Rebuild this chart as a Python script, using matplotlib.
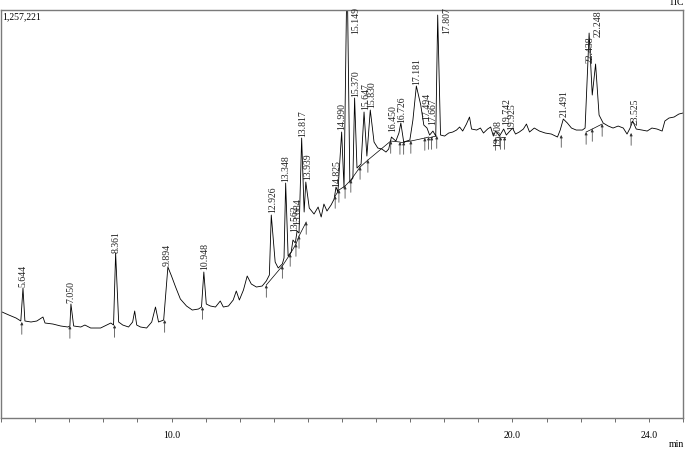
import matplotlib
matplotlib.use("Agg")
import matplotlib.pyplot as plt
from matplotlib.ticker import MultipleLocator, FixedLocator

plt.rcParams['font.family'] = ['Liberation Serif', 'DejaVu Serif']

# ---- data (retention time in min, intensity in thousands of counts) ----
y_max = 1257221

rt = [5.03, 5.23, 5.44, 5.58, 5.644, 5.70, 5.88, 6.05, 6.23, 6.29, 6.52, 6.75, 6.96, 7.02,
      7.050, 7.13, 7.34, 7.46, 7.63, 7.92, 8.10, 8.22, 8.30, 8.361, 8.45, 8.57, 8.74, 8.86,
      8.92, 8.98, 9.09, 9.27, 9.42, 9.53, 9.62, 9.77, 9.894, 10.00, 10.12, 10.26, 10.44,
      10.61, 10.79, 10.88, 10.948, 11.02, 11.14, 11.29, 11.43, 11.52, 11.67, 11.81, 11.90,
      11.99, 12.11, 12.22, 12.34, 12.49, 12.66, 12.78, 12.87, 12.926, 13.04, 13.13, 13.25,
      13.30, 13.348, 13.42, 13.51, 13.562, 13.63, 13.684, 13.74, 13.817, 13.89, 13.939,
      14.04, 14.18, 14.30, 14.39, 14.47, 14.56, 14.68, 14.77, 14.825, 14.88, 14.990, 15.06,
      15.149, 15.23, 15.32, 15.370, 15.44, 15.56, 15.647, 15.73, 15.830, 15.94, 16.05,
      16.17, 16.29, 16.37, 16.450, 16.58, 16.67, 16.726, 16.81, 16.99, 17.08, 17.181, 17.31,
      17.40, 17.494, 17.57, 17.667, 17.75, 17.807, 17.89, 18.01, 18.13, 18.25, 18.36, 18.45,
      18.54, 18.65, 18.74, 18.80, 18.95, 19.06, 19.15, 19.27, 19.36, 19.44, 19.508, 19.62,
      19.742, 19.82, 19.925, 20.00, 20.09, 20.20, 20.32, 20.41, 20.50, 20.64, 20.79, 20.96,
      21.14, 21.32, 21.40, 21.491, 21.61, 21.73, 21.87, 22.05, 22.13, 22.248, 22.34, 22.438,
      22.54, 22.66, 22.81, 22.95, 23.10, 23.25, 23.36, 23.45, 23.525, 23.63, 23.80, 23.95,
      24.09, 24.24, 24.39, 24.47, 24.59, 24.74, 24.88, 25.00]

intensity = [326.6, 317.3, 308.1, 298.9, 400.5, 298.9, 295.8, 298.9, 311.2, 292.7, 289.6,
             283.5, 280.4, 283.5, 351.2, 283.5, 280.4, 286.5, 277.3, 277.3, 286.5, 292.7,
             286.5, 508.4, 295.8, 286.5, 280.4, 295.8, 329.7, 286.5, 280.4, 277.3, 295.8,
             342.0, 295.8, 301.9, 465.2, 437.5, 403.6, 366.6, 345.1, 332.7, 335.8, 342.0,
             449.8, 351.2, 345.1, 342.0, 360.5, 342.0, 345.1, 363.6, 391.3, 363.6, 394.4,
             437.5, 412.9, 403.6, 406.7, 422.1, 440.6, 625.4, 480.6, 462.2, 474.5, 493.0,
             724.0, 499.1, 511.4, 548.4, 539.2, 576.1, 570.0, 862.7, 634.7, 727.1, 647.0,
             628.5, 650.1, 619.3, 659.3, 637.8, 656.3, 674.7, 711.7, 696.3, 881.2, 708.6,
             1400.0, 727.1, 739.4, 985.9, 770.3, 782.6, 942.8, 807.2, 949.0, 850.4, 831.9,
             828.8, 819.5, 828.8, 865.8, 853.4, 878.1, 908.9, 850.4, 856.5, 918.1, 1022.9,
             964.4, 902.7, 893.5, 871.9, 884.2, 868.8, 1241.6, 871.9, 868.8, 878.1, 881.2,
             887.3, 896.6, 884.2, 905.8, 927.4, 890.4, 887.3, 893.5, 878.1, 890.4, 896.6,
             868.8, 884.2, 868.8, 890.4, 871.9, 884.2, 893.5, 875.0, 881.2, 890.4, 905.8,
             881.2, 893.5, 884.2, 878.1, 875.0, 865.8, 887.3, 921.2, 908.9, 893.5, 887.3,
             887.3, 893.5, 1186.2, 995.2, 1090.7, 933.5, 908.9, 899.6, 893.5, 899.6, 893.5,
             875.0, 893.5, 915.1, 890.4, 887.3, 884.2, 893.5, 890.4, 884.2, 915.1, 924.3,
             927.4, 936.6, 939.7]

# integration boundaries (time, intensity)
bound_rt = [5.61, 7.02, 8.33, 9.80, 10.91, 12.78, 13.25, 13.48, 13.65, 13.74, 13.95, 14.80,
            14.91, 15.09, 15.26, 15.53, 15.76, 16.43, 16.70, 16.81, 17.02, 17.43, 17.54,
            17.63, 17.78, 19.50, 19.65, 19.77, 21.43, 22.16, 22.34, 22.63, 23.48]
bound_int = [295.8, 283.5, 286.5, 301.9, 342.0, 409.8, 468.3, 505.3, 536.1, 560.7, 603.9,
             684.0, 702.5, 714.8, 733.3, 773.3, 794.9, 853.4, 850.4, 850.4, 853.4, 862.7,
             865.8, 865.8, 868.8, 862.7, 865.8, 865.8, 871.9, 881.2, 890.4, 905.8, 878.1]

# peak labels and where their text sits
peak_labels = ["5.644", "7.050", "8.361", "9.894", "10.948", "12.926", "13.348", "13.562",
               "13.684", "13.817", "13.939", "14.825", "14.990", "15.149", "15.370", "15.647",
               "15.830", "16.450", "16.726", "17.181", "17.494", "17.667", "17.807", "19.508",
               "19.742", "19.925", "21.491", "22.438", "22.248", "23.525"]
label_x = [5.64, 7.05, 8.39, 9.88, 10.96, 12.98, 13.36, 13.60, 13.71, 13.86, 13.98, 14.85,
           15.00, 15.41, 15.41, 15.70, 15.88, 16.49, 16.75, 17.19, 17.49, 17.66, 18.07, 19.56,
           19.82, 19.97, 21.52, 22.28, 22.51, 23.60]
label_y = [403.6, 354.3, 508.4, 468.3, 456.0, 631.6, 727.1, 573.1, 594.6, 865.8, 733.3, 711.7,
           887.3, 1183.1, 989.0, 949.0, 955.1, 881.2, 908.9, 1026.0, 918.1, 902.7, 1183.1,
           835.0, 902.7, 887.3, 927.4, 1093.8, 1173.9, 902.7]

x_major = [10.0, 20.0, 24.0]

# ---- figure ----
fig = plt.figure(figsize=(6.85, 4.5), dpi=100)
ax = fig.add_axes([0.0015, 0.0711, 0.9955, 0.9067])

ax.plot(rt, intensity, color='black', lw=0.6)

# baselines between neighbouring boundaries
for i in range(len(bound_rt) - 1):
    if bound_rt[i + 1] - bound_rt[i] < 0.7:
        ax.plot([bound_rt[i], bound_rt[i + 1]], [bound_int[i], bound_int[i + 1]],
                color='black', lw=0.5)
for b, v in zip(bound_rt, bound_int):
    ax.annotate('', xy=(b, v), xytext=(b, v - 38),
                arrowprops=dict(arrowstyle='-|>', lw=0.5, color='#333333',
                                mutation_scale=4, shrinkA=0, shrinkB=0))

for lab, lx, ly in zip(peak_labels, label_x, label_y):
    ax.text(lx, ly, lab, rotation=90, ha='center', va='bottom', fontsize=7,
            color='#222222')

ax.set_xlim(5.0, 25.0)
ax.set_ylim(0, y_max / 1000)
ax.xaxis.set_major_locator(FixedLocator(x_major))
ax.xaxis.set_minor_locator(MultipleLocator(1.0))
ax.set_xticklabels([f"{v:.1f}" for v in x_major])
ax.tick_params(axis='x', which='both', direction='out', length=3, width=0.6,
               color='#555555', labelsize=7, pad=6)
ax.set_yticks([])
for s in ax.spines.values():
    s.set_color('#7a7a7a')
    s.set_linewidth(1.0)

ax.text(0.002, 0.995, f"{y_max:,}", transform=ax.transAxes, ha='left', va='top',
        fontsize=7)
fig.text(0.999, 1.004, "TIC", ha='right', va='top', fontsize=7)
fig.text(0.999, 0.003, "min", ha='right', va='bottom', fontsize=7)

fig.savefig("out.png", dpi=100)
